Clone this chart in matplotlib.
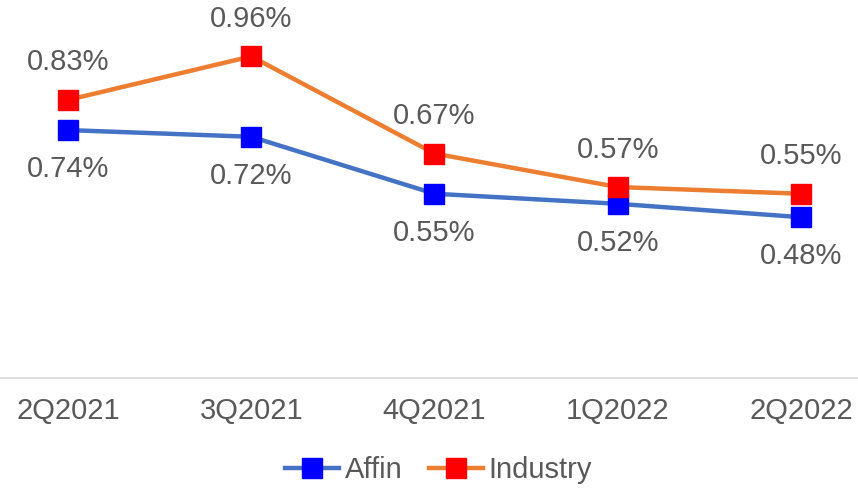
import matplotlib
matplotlib.use("Agg")
import matplotlib.pyplot as plt

quarters = ["2Q2021", "3Q2021", "4Q2021", "1Q2022", "2Q2022"]
affin = [0.74, 0.72, 0.55, 0.52, 0.48]
industry = [0.83, 0.96, 0.67, 0.57, 0.55]

plt.rcParams['font.family'] = ['Liberation Sans', 'DejaVu Sans']
grey = '#595959'
fs = 21

fig = plt.figure(figsize=(8.58, 4.88), dpi=100)
ax = fig.add_axes([0, 0.2254, 1, 0.6824])
x = range(len(quarters))
ax.plot(x, affin, color='#4472C4', lw=3.2, marker='s', ms=14,
        mfc='#0000FF', mec='#0000FF', label='Affin', zorder=3, clip_on=False)
ax.plot(x, industry, color='#ED7D31', lw=3.2, marker='s', ms=14,
        mfc='#FF0000', mec='#FF0000', label='Industry', zorder=3, clip_on=False)

for i in x:
    ax.annotate(f"{affin[i]:.2f}%", (i, affin[i]), xytext=(0, -28), textcoords='offset points',
                ha='center', va='center', fontsize=fs, color=grey)
    ax.annotate(f"{industry[i]:.2f}%", (i, industry[i]), xytext=(0, 27), textcoords='offset points',
                ha='center', va='center', fontsize=fs, color=grey, annotation_clip=False)

ax.set_xlim(-0.371, 4.311)
ax.set_ylim(0, 0.994)
ax.set_xticks(list(x))
ax.set_xticklabels(quarters, fontsize=fs, color=grey)
ax.tick_params(axis='x', length=0, pad=14)
ax.set_yticks([])
for s in ['top', 'left', 'right']:
    ax.spines[s].set_visible(False)
ax.spines['bottom'].set_color('#D9D9D9')
ax.spines['bottom'].set_linewidth(1.2)

fig.legend(loc='center', bbox_to_anchor=(0.511, 0.036), ncol=2, frameon=False,
           fontsize=fs, labelcolor=grey, handlelength=1.85, handletextpad=0.2,
           columnspacing=0.9)
fig.savefig("out.png", dpi=100)
